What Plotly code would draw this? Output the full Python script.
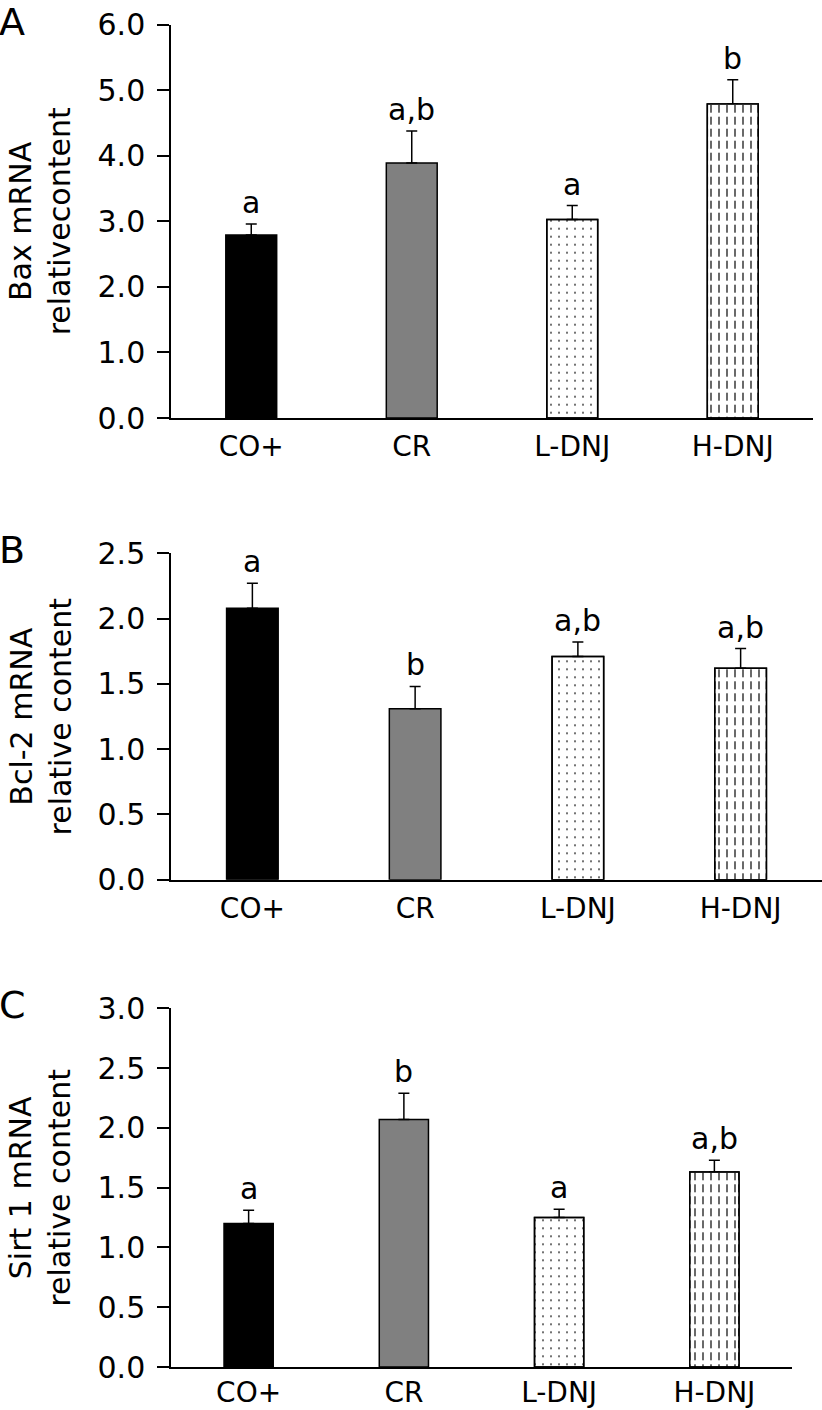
import plotly.graph_objects as go

groups = ["CO+", "CR", "L-DNJ", "H-DNJ"]

bax_vals = [2.79, 3.89, 3.03, 4.79]
bax_err = [0.17, 0.49, 0.21, 0.37]
bax_sig = ["a", "a,b", "a", "b"]

bcl2_vals = [2.08, 1.31, 1.71, 1.62]
bcl2_err = [0.19, 0.17, 0.11, 0.15]
bcl2_sig = ["a", "b", "a,b", "a,b"]

sirt1_vals = [1.20, 2.07, 1.25, 1.63]
sirt1_err = [0.11, 0.22, 0.07, 0.10]
sirt1_sig = ["a", "b", "a", "a,b"]

panels = [
    dict(letter="A", vals=bax_vals, err=bax_err, sig=bax_sig,
         title="Bax mRNA<br>relativecontent", yrange=[0, 6], dtick=1.0,
         xpx=(171, 813), ypx=(24.7, 418), standoff=3),
    dict(letter="B", vals=bcl2_vals, err=bcl2_err, sig=bcl2_sig,
         title="Bcl-2 mRNA<br>relative content", yrange=[0, 2.5], dtick=0.5,
         xpx=(171, 822), ypx=(553.3, 879.7), standoff=3),
    dict(letter="C", vals=sirt1_vals, err=sirt1_err, sig=sirt1_sig,
         title="Sirt 1 mRNA<br>relative content", yrange=[0, 3.0], dtick=0.5,
         xpx=(171, 792), ypx=(1008.3, 1367), standoff=0),
]

W, H = 822, 1410
FONT = "DejaVu Sans"
BW = 0.317

fig = go.Figure()
annotations = []
layout = dict(
    template="none",
    width=W, height=H, margin=dict(l=0, r=0, t=0, b=0, pad=0, autoexpand=False),
    paper_bgcolor="white", plot_bgcolor="white", showlegend=False,
    barmode="overlay", font=dict(family=FONT, color="black"),
)

for i, p in enumerate(panels):
    n = "" if i == 0 else str(i + 1)
    xa, ya = "x" + n, "y" + n
    x0, x1 = p["xpx"]
    y0, y1 = p["ypx"]
    layout["xaxis" + n] = dict(
        domain=[x0 / W, x1 / W], anchor=ya, type="category",
        categoryorder="array", categoryarray=groups, range=[-0.5, 3.5],
        showline=True, linecolor="black", linewidth=1.5, ticks="",
        tickfont=dict(size=28, family=FONT, color="black"),
        ticklabelstandoff=p["standoff"], showgrid=False, zeroline=False,
        fixedrange=True, automargin=False,
    )
    layout["yaxis" + n] = dict(
        domain=[1 - y1 / H, 1 - y0 / H], anchor=xa, range=p["yrange"],
        dtick=p["dtick"], tick0=0, tickformat=".1f",
        showline=True, linecolor="black", linewidth=1.5,
        ticks="outside", ticklen=12, tickwidth=1.5, tickcolor="black",
        tickfont=dict(size=30, family=FONT, color="black"),
        ticklabelstandoff=6, showgrid=False, zeroline=False, fixedrange=True,
        automargin=False,
    )
    # main bars with fills / patterns
    fig.add_trace(go.Bar(
        x=groups, y=p["vals"], xaxis=xa, yaxis=ya, width=BW,
        marker=dict(
            color=["black", "#808080", "white", "white"],
            line=dict(color="black", width=1.5),
            pattern=dict(shape=["", "", ".", "|"], fgcolor="black",
                         bgcolor="white", fillmode="overlay", fgopacity=1,
                         size=[8, 8, 8, 8], solidity=[0.2, 0.2, 0.05, 0.2]),
        ),
        error_y=dict(type="data", array=p["err"], arrayminus=[0, 0, 0, 0],
                     symmetric=False, color="black", thickness=1.5, width=5.5),
    ))
    # white horizontal stripes break vertical lines into dashes (H-DNJ)
    fig.add_trace(go.Bar(
        x=groups[3:], y=p["vals"][3:], xaxis=xa, yaxis=ya, width=BW,
        marker=dict(color="rgba(0,0,0,0)", line=dict(width=0),
                    pattern=dict(shape="-", fgcolor="white", fgopacity=1, size=12,
                                 solidity=0.33, fillmode="replace")),
    ))
    # outline on top
    fig.add_trace(go.Bar(
        x=groups[2:], y=p["vals"][2:], xaxis=xa, yaxis=ya, width=BW,
        marker=dict(color="rgba(0,0,0,0)", line=dict(color="black", width=1.5)),
    ))
    for g, v, e, s in zip(groups, p["vals"], p["err"], p["sig"]):
        annotations.append(dict(
            x=g, y=v + e, xref=xa, yref=ya, text=s, showarrow=False,
            yanchor="bottom", yshift=2, font=dict(size=30, family=FONT, color="black"),
        ))
    annotations.append(dict(
        x=0.0, y=1 - (y0 - 22) / H, xref="paper", yref="paper", text=p["letter"],
        showarrow=False, xanchor="left", yanchor="top", xshift=-3, yshift=5,
        font=dict(size=38, family=FONT, color="black"),
    ))
    annotations.append(dict(
        x=40 / W, y=1 - ((y0 + y1) / 2) / H, xref="paper", yref="paper",
        text=p["title"], textangle=-90, showarrow=False,
        xanchor="center", yanchor="middle",
        font=dict(size=30, family=FONT, color="black"),
    ))

layout["annotations"] = annotations
fig.update_layout(**layout)
fig.write_html("out.html", config={"displayModeBar": False},
               post_script="document.body.style.margin='0';")
